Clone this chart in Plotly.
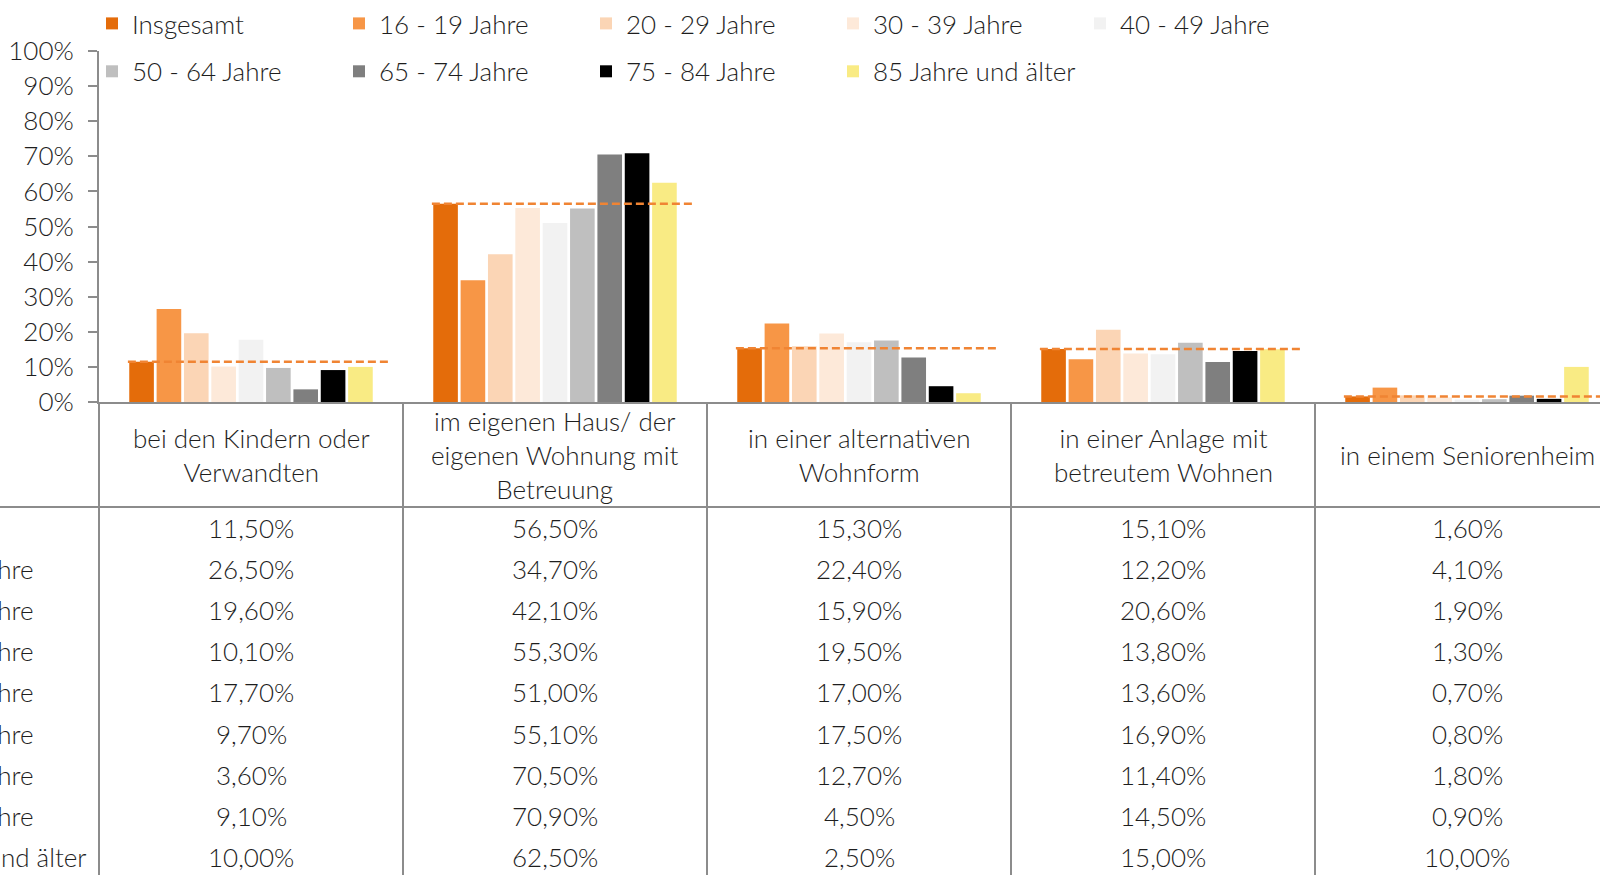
import plotly.graph_objects as go

categories = [
    "bei den Kindern oder<br>Verwandten",
    "im eigenen Haus/ der<br>eigenen Wohnung mit<br>Betreuung",
    "in einer alternativen<br>Wohnform",
    "in einer Anlage mit<br>betreutem Wohnen",
    "in einem Seniorenheim",
]
series_names = [
    "Insgesamt", "16 - 19 Jahre", "20 - 29 Jahre", "30 - 39 Jahre", "40 - 49 Jahre",
    "50 - 64 Jahre", "65 - 74 Jahre", "75 - 84 Jahre", "85 Jahre und älter",
]
insgesamt = [11.5, 56.5, 15.3, 15.1, 1.6]
j16_19 = [26.5, 34.7, 22.4, 12.2, 4.1]
j20_29 = [19.6, 42.1, 15.9, 20.6, 1.9]
j30_39 = [10.1, 55.3, 19.5, 13.8, 1.3]
j40_49 = [17.7, 51.0, 17.0, 13.6, 0.7]
j50_64 = [9.7, 55.1, 17.5, 16.9, 0.8]
j65_74 = [3.6, 70.5, 12.7, 11.4, 1.8]
j75_84 = [9.1, 70.9, 4.5, 14.5, 0.9]
j85 = [10.0, 62.5, 2.5, 15.0, 10.0]
series_values = [insgesamt, j16_19, j20_29, j30_39, j40_49, j50_64, j65_74, j75_84, j85]
y_ticks = [i / 10 for i in range(11)]

colors = ["#E46C0A", "#F79646", "#FBD5B5", "#FDE9D9", "#F2F2F2",
          "#BFBFBF", "#7F7F7F", "#000000", "#F9EB84"]

FONT = "Lato"
FS = 26
TXT = "#1E1E1E"
GRID = "#8C8C8C"
W, H = 1600, 875
L = 99
XR = [-0.5, 4.4375]
y_top_px, y_base_px, hdr_bottom_px, row_h = 51, 402, 507, 41.2

def tfont():
    return dict(family=FONT, size=FS, color=TXT, weight=300)

xs = list(range(len(categories)))
fig = go.Figure()
for i, (name, vals) in enumerate(zip(series_names, series_values)):
    fig.add_trace(go.Bar(
        x=xs, y=[v / 100 for v in vals], name=name,
        marker=dict(color=colors[i], line=dict(width=0)),
        legend="legend" if i < 5 else "legend2",
        hovertemplate="%{y:.1%}<extra>" + name + "</extra>",
    ))

# dashed reference line at the "Insgesamt" value per category
dx, dy = [], []
for c, v in zip(xs, insgesamt):
    dx += [c - 0.405, c + 0.455, None]
    dy += [v / 100, v / 100, None]
fig.add_trace(go.Scatter(x=dx, y=dy, mode="lines", showlegend=False, hoverinfo="skip",
                         line=dict(color="#F08433", width=2.5, dash="8px,4px")))

# dummy trace for the table axis
fig.add_trace(go.Scatter(x=[0], y=[0], xaxis="x", yaxis="y2", mode="markers",
                         marker=dict(opacity=0), showlegend=False, hoverinfo="skip"))

def py(px):
    return 1 - px / H

def pxp(v):
    return (v - XR[0]) / (XR[1] - XR[0])

row_bottom = (H - hdr_bottom_px) / row_h
row_top = (y_base_px - hdr_bottom_px) / row_h

annotations = []
shapes = []
# header
for c, cat in zip(xs, categories):
    annotations.append(dict(x=c, y=row_top / 2, xref="x", yref="y2", text=cat, showarrow=False,
                            font=tfont(), align="center"))
# table values
for r, (name, vals) in enumerate(zip(series_names, series_values)):
    for c, v in zip(xs, vals):
        annotations.append(dict(x=c, y=r + 0.5, xref="x", yref="y2",
                                text=f"{v:.2f}%".replace(".", ","), showarrow=False,
                                font=tfont()))
    annotations.append(dict(x=(-118 - L) / (W - L), y=r + 0.5, xref="paper", yref="y2",
                            xanchor="left", text=name, showarrow=False, font=tfont()))

# table grid lines
for b in range(len(categories) + 1):
    xb = pxp(b - 0.5)
    shapes.append(dict(type="line", xref="paper", yref="paper", x0=xb, x1=xb,
                       y0=py(y_base_px), y1=0, line=dict(color=GRID, width=2)))
shapes.append(dict(type="line", xref="paper", yref="paper", x0=-L / (W - L), x1=1,
                   y0=py(hdr_bottom_px), y1=py(hdr_bottom_px), line=dict(color=GRID, width=2)))

legend_common = dict(orientation="h", xref="container", yref="container", x=92 / W,
                     xanchor="left", yanchor="middle", entrywidth=202, font=tfont(),
                     bgcolor="rgba(0,0,0,0)", itemclick=False, itemdoubleclick=False)

fig.update_layout(
    width=W, height=H,
    margin=dict(l=L, r=0, t=0, b=0, autoexpand=False),
    paper_bgcolor="white", plot_bgcolor="white",
    barmode="group", bargap=0.19, bargroupgap=0.1,
    font=tfont(),
    xaxis=dict(range=XR, showticklabels=False, showgrid=False, zeroline=False,
               showline=True, linecolor=GRID, linewidth=2, ticks="", automargin=False),
    yaxis=dict(domain=[py(y_base_px), py(y_top_px)], range=[0, 1], tickvals=y_ticks,
               tickformat=".0%", showgrid=False, zeroline=False, showline=True,
               linecolor=GRID, linewidth=2, ticks="outside", ticklen=9, tickwidth=2,
               tickcolor=GRID, ticklabelstandoff=9, automargin=False,
               tickfont=tfont()),
    yaxis2=dict(domain=[0, py(y_base_px)], range=[row_bottom, row_top], anchor="x",
                visible=False),
    legend=dict(legend_common, y=py(23.5)),
    legend2=dict(legend_common, y=py(71.4)),
    annotations=annotations,
    shapes=shapes,
    showlegend=True,
)
fig.write_html("out.html", config={"displayModeBar": False},
               post_script="document.body.style.margin='0';document.body.style.overflow='hidden';")
